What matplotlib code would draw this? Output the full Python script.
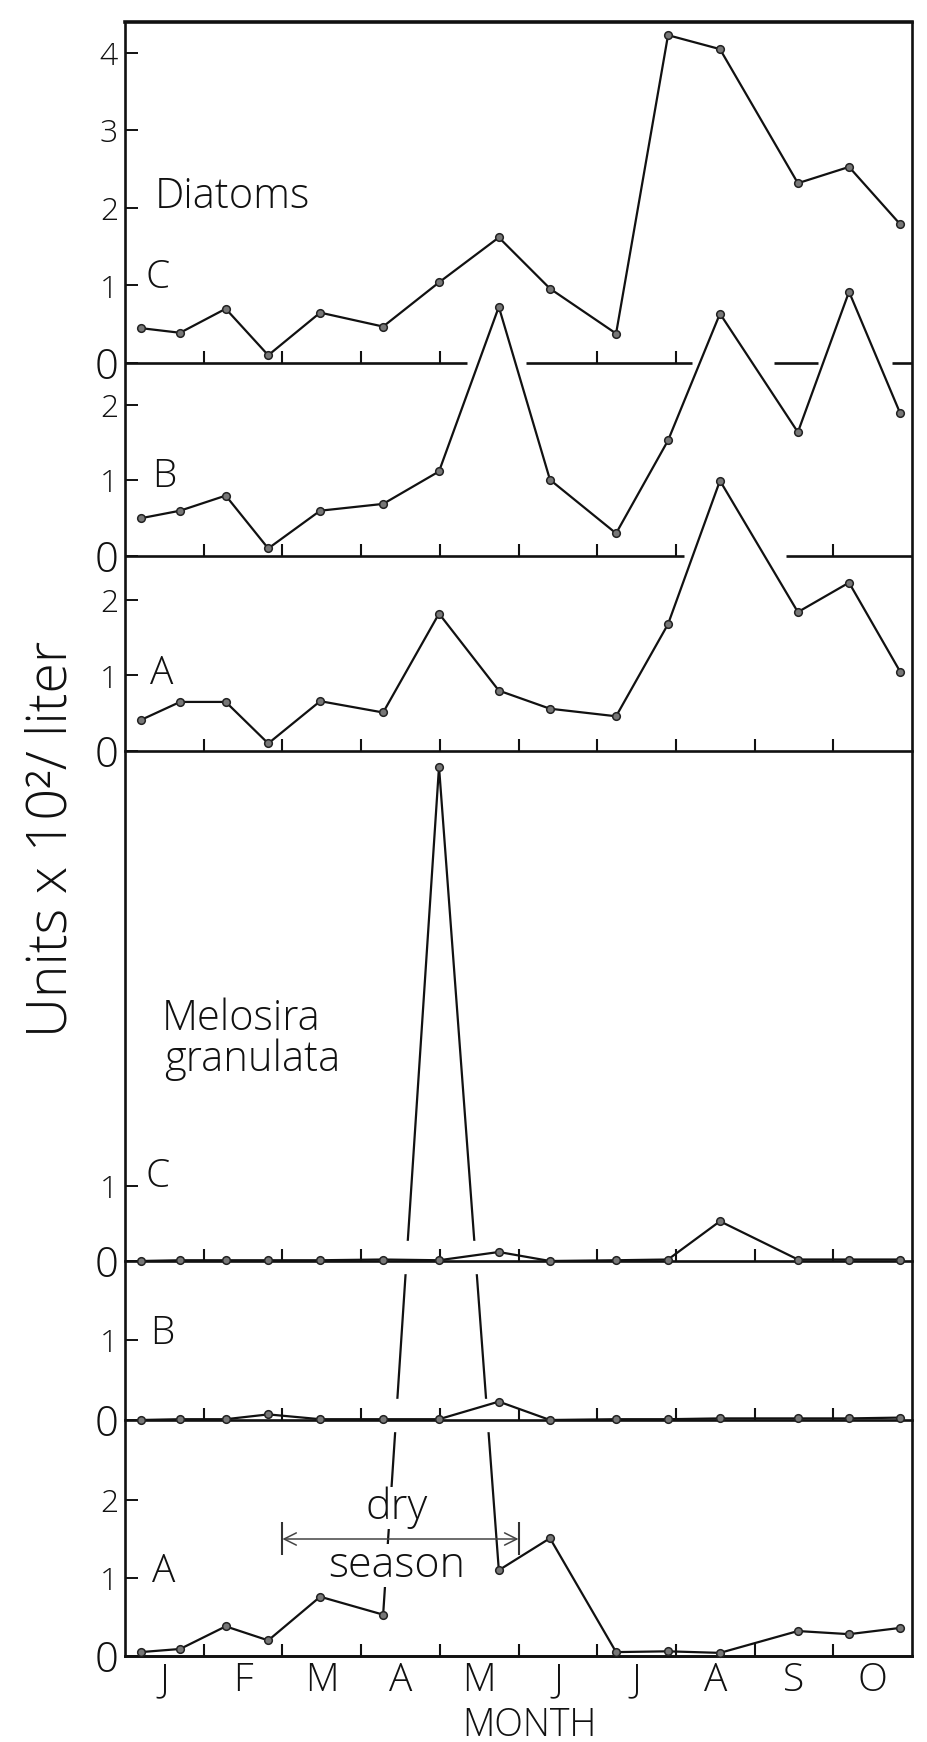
import matplotlib
matplotlib.use("Agg")
import matplotlib.pyplot as plt

plt.rcParams['font.family'] = ['Open Sans', 'DejaVu Sans']
plt.rcParams['font.weight'] = 'light'
plt.rcParams['text.color'] = '#111111'
plt.rcParams['ytick.labelcolor'] = '#111111'
plt.rcParams['xtick.labelcolor'] = '#111111'

# sampling dates in months from 1 Jan (same for every station)
dates = [0.2, 0.7, 1.28, 1.82, 2.48, 3.28, 3.99, 4.75, 5.4, 6.24, 6.9, 7.56, 8.55, 9.2, 9.85]
months = ['J', 'F', 'M', 'A', 'M', 'J', 'J', 'A', 'S', 'O']

# Diatoms, units x 10^2 / liter
diat_c = [0.45, 0.39, 0.70, 0.10, 0.65, 0.47, 1.04, 1.62, 0.96, 0.38, 4.23, 4.05, 2.32, 2.53, 1.79]
diat_b = [0.50, 0.60, 0.80, 0.10, 0.60, 0.69, 1.12, 3.30, 1.01, 0.30, 1.53, 3.21, 1.64, 3.50, 1.89]
diat_a = [0.41, 0.65, 0.65, 0.10, 0.66, 0.51, 1.82, 0.80, 0.56, 0.46, 1.68, 3.58, 1.84, 2.23, 1.05]

# Melosira granulata
mel_c = [0.0, 0.01, 0.01, 0.01, 0.01, 0.02, 0.01, 0.12, 0.0, 0.01, 0.02, 0.53, 0.02, 0.02, 0.02]
mel_b = [0.0, 0.01, 0.01, 0.07, 0.01, 0.01, 0.01, 0.23, 0.0, 0.01, 0.01, 0.02, 0.02, 0.02, 0.03]
mel_a = [0.05, 0.09, 0.38, 0.20, 0.76, 0.53, 11.4, 1.10, 1.51, 0.05, 0.06, 0.04, 0.32, 0.28, 0.36]

dry_season = (2.0, 5.0)

W, H = 927, 1742
LEFT, RIGHT = 125, 912
TOP, BOTTOM = 22, 1656
INK = '#111111'

fig = plt.figure(figsize=(W / 100, H / 100), dpi=100)

# outer frame
frame = fig.add_axes([LEFT / W, 1 - BOTTOM / H, (RIGHT - LEFT) / W, (BOTTOM - TOP) / H], zorder=-1)
frame.set_xticks([])
frame.set_yticks([])
for s in frame.spines.values():
    s.set_linewidth(1.9)
    s.set_color(INK)
frame.spines['top'].set_linewidth(2.6)


def panel(top, bottom, px_per_unit, yticks):
    ax = fig.add_axes([LEFT / W, 1 - bottom / H, (RIGHT - LEFT) / W, (bottom - top) / H])
    ax.set_xlim(0, 10)
    ax.set_ylim(0, (bottom - top) / px_per_unit)
    ax.patch.set_visible(False)
    for s in ['top', 'right', 'left']:
        ax.spines[s].set_visible(False)
    ax.spines['bottom'].set_linewidth(1.9)
    ax.spines['bottom'].set_color(INK)
    ax.set_xticks(range(1, 10))
    ax.tick_params(axis='x', direction='in', length=9, width=1.5, color=INK, labelbottom=False)
    ax.set_yticks(yticks)
    ax.set_yticklabels([str(t) for t in yticks])
    ax.tick_params(axis='y', direction='in', length=9, width=1.4, color=INK, pad=5, labelsize=23)
    for lab in ax.get_yticklabels():
        if lab.get_text() == '0':
            lab.set_fontsize(30)
    return ax


def series(ax, y):
    ax.plot(dates, y, color=INK, lw=1.6, marker='o', ms=5.5, mfc='#777777', mec='#222222',
            mew=1.1, clip_on=False, zorder=3)


def gap_band(ax):
    # lines crossing this baseline were broken in the drawing
    ax.plot([0.05, 9.95], [0.06, 0.06], color='white', lw=24, solid_capstyle='butt',
            clip_on=False, zorder=1)


# bottom to top so that upper baselines are drawn over lower lines
ax_ma = panel(1420, 1656, 78, [0, 1, 2])
ax_mb = panel(1261, 1420, 80, [0, 1])
ax_mc = panel(751, 1261, 75, [0, 1])
ax_da = panel(556, 751, 75.5, [0, 1, 2])
ax_db = panel(363, 556, 75.5, [0, 1, 2])
ax_dc = panel(22, 363, 77.5, [0, 1, 2, 3, 4])

series(ax_ma, mel_a)
gap_band(ax_mb)
series(ax_mb, mel_b)
gap_band(ax_mc)
series(ax_mc, mel_c)
series(ax_da, diat_a)
series(ax_db, diat_b)
series(ax_dc, diat_c)

# broken baselines of the upper diatom panels
ax_db.spines['bottom'].set_visible(False)
for x0, x1 in [(0, 7.1), (8.4, 10)]:
    ax_db.plot([x0, x1], [0, 0], color=INK, lw=1.9, solid_capstyle='butt', clip_on=False)
ax_db.set_xticks([1, 2, 3, 4, 5, 6, 7, 9])

ax_dc.spines['bottom'].set_visible(False)
for x0, x1 in [(0, 4.35), (5.1, 7.2), (8.25, 8.8), (9.75, 10)]:
    ax_dc.plot([x0, x1], [0, 0], color=INK, lw=1.9, solid_capstyle='butt', clip_on=False)
ax_dc.set_xticks([1, 2, 3, 4, 6, 7])

# month labels
ax_ma.set_xticks([i + 0.5 for i in range(10)], minor=True)
ax_ma.set_xticklabels(months, minor=True)
ax_ma.tick_params(axis='x', which='minor', length=0, pad=4, labelsize=28, labelbottom=True)

# panel letters and titles
LET = 28
ax_dc.text(0.26, 1.1, 'C', fontsize=LET, va='center', ha='left')
ax_db.text(0.34, 1.05, 'B', fontsize=LET, va='center', ha='left')
ax_da.text(0.32, 1.02, 'A', fontsize=LET, va='center', ha='left')
ax_mc.text(0.26, 1.12, 'C', fontsize=LET, va='center', ha='left')
ax_mb.text(0.32, 1.08, 'B', fontsize=LET, va='center', ha='left')
ax_ma.text(0.34, 1.08, 'A', fontsize=LET, va='center', ha='left')
ax_dc.text(0.38, 2.14, 'Diatoms', fontsize=30, va='center', ha='left')
ax_mc.text(0.47, 3.23, 'Melosira', fontsize=30, va='center', ha='left')
ax_mc.text(0.50, 2.68, 'granulata', fontsize=30, va='center', ha='left')

# dry season marker
ax_ma.annotate('', xy=(dry_season[0], 1.5), xytext=(dry_season[1], 1.5),
               arrowprops=dict(arrowstyle='<->', lw=1.1, color='#444444',
                               shrinkA=0, shrinkB=0, mutation_scale=22), zorder=6)
ax_ma.vlines(dry_season, 1.3, 1.72, color='#333333', lw=1.5, zorder=6)
ax_ma.text(3.45, 1.9, 'dry', fontsize=31, ha='center', va='center', zorder=5,
           bbox=dict(facecolor='white', edgecolor='none', pad=0))
ax_ma.text(3.45, 1.16, 'season', fontsize=31, ha='center', va='center', zorder=5,
           bbox=dict(facecolor='white', edgecolor='none', pad=0))

fig.text(529 / W, 1 - 1726 / H, 'MONTH', fontsize=27, ha='center', va='center')
fig.text(52 / W, 1 - 839 / H, 'Units x 10²/ liter', fontsize=40, rotation=90,
         ha='center', va='center')

fig.savefig('out.png', dpi=100)
